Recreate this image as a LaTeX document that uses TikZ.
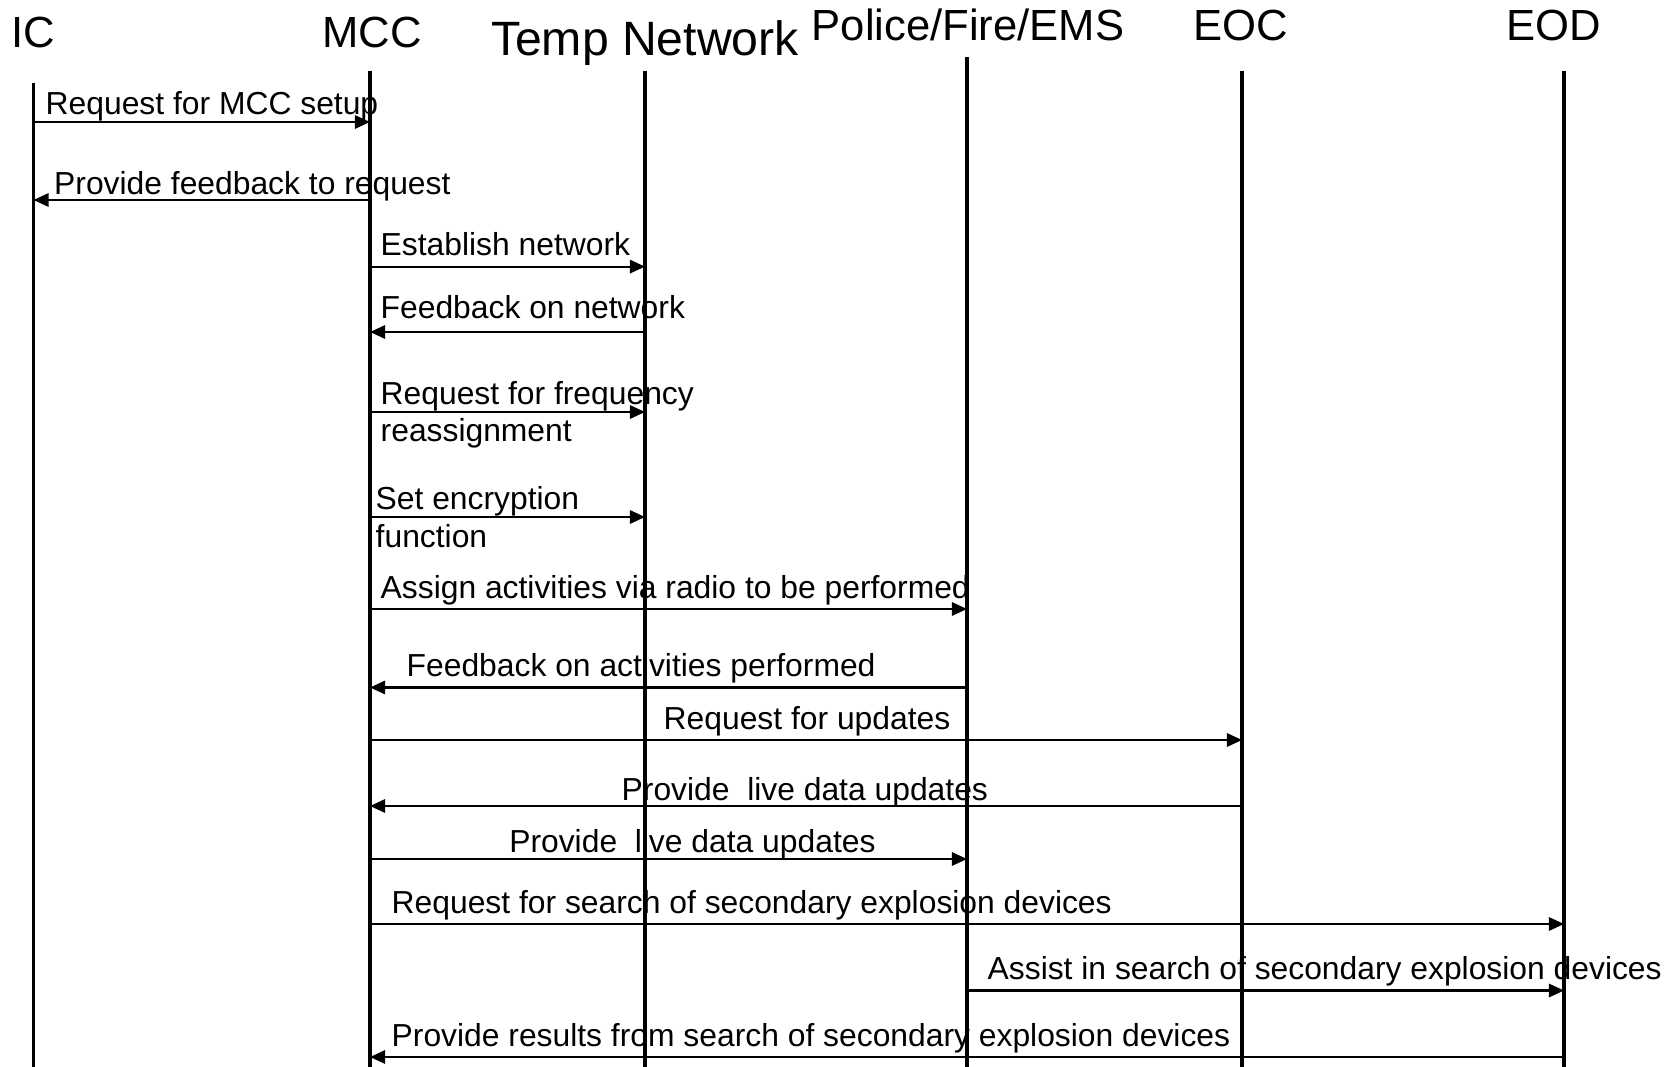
\documentclass[tikz,border=0pt]{standalone}
\usepackage{fontspec}
\setmainfont{Liberation Sans}
\usetikzlibrary{arrows.meta}

\tikzset{
  lifeline/.style={line width=0.95pt},
  msg/.style={line width=0.6pt, -{Triangle[length=4.3pt,width=3.8pt]}},
  head/.style={anchor=base, inner sep=0pt, font=\fontsize{12.4}{14}\selectfont},
  bighead/.style={head, font=\fontsize{13.7}{16}\selectfont},
  lbl/.style={anchor=base west, inner sep=0pt, align=left,
              font=\fontsize{9.05}{10.6}\selectfont},
}

\begin{document}
\begin{tikzpicture}[x=0.01cm, y=-0.01cm]
  \useasboundingbox (0,0) rectangle (1679,1067);

  % participant headings
  \node[head]    (ic)   at (33.5,48)  {IC};
  \node[head]    (mcc)  at (372,48)   {MCC};
  \node[bighead] (temp) at (645,56)   {Temp Network};
  \node[head]    (pfe)  at (968,41)   {Police/Fire/EMS};
  \node[head]    (eoc)  at (1241,41)  {EOC};
  \node[head]    (eod)  at (1554,41)  {EOD};

  % lifeline ends
  \coordinate (icT)   at (33.5,83.5);  \coordinate (icB)   at (33.5,1067);
  \coordinate (mccT)  at (370,70.7);   \coordinate (mccB)  at (370,1067);
  \coordinate (tempT) at (645,70.7);   \coordinate (tempB) at (645,1067);
  \coordinate (pfeT)  at (967,56.8);   \coordinate (pfeB)  at (967,1067);
  \coordinate (eocT)  at (1242,70.7);  \coordinate (eocB)  at (1242,1067);
  \coordinate (eodT)  at (1564,70.7);  \coordinate (eodB)  at (1564,1067);

  \draw[lifeline] (icT) -- (icB);
  \draw[lifeline] (mccT) -- (mccB);
  \draw[lifeline] (tempT) -- (tempB);
  \draw[lifeline] (pfeT) -- (pfeB);
  \draw[lifeline] (eocT) -- (eocB);
  \draw[lifeline] (eodT) -- (eodB);

  % messages (two-line labels are placed by the baseline of their last line)
  \draw[msg] (icT |- 0,122) -- (mccT |- 0,122);
  \node[lbl] (m1) at (45,114.5) {Request for MCC setup};

  \draw[msg] (mccT |- 0,200) -- (icT |- 0,200);
  \node[lbl] (m2) at (53.5,195) {Provide feedback to request};

  \draw[msg] (mccT |- 0,266.6) -- (tempT |- 0,266.6);
  \node[lbl] (m3) at (380,256) {Establish network};

  \draw[msg] (tempT |- 0,332) -- (mccT |- 0,332);
  \node[lbl] (m4) at (380,319) {Feedback on network};

  \draw[msg] (mccT |- 0,412) -- (tempT |- 0,412);
  \node[lbl] (m5) at (380,442) {Request for frequency\\reassignment};

  \draw[msg] (mccT |- 0,517) -- (tempT |- 0,517);
  \node[lbl] (m6) at (375,547) {Set encryption\\function};

  \draw[msg] (mccT |- 0,609) -- (pfeT |- 0,609);
  \node[lbl] (m7) at (380,598.5) {Assign activities via radio to be performed};

  \draw[msg] (pfeT |- 0,687.5) -- (mccT |- 0,687.5);
  \node[lbl] (m8) at (406,676.7) {Feedback on activities performed};

  \draw[msg] (mccT |- 0,740) -- (eocT |- 0,740);
  \node[lbl] (m9) at (663,729) {Request for updates};

  \draw[msg] (eocT |- 0,806) -- (mccT |- 0,806);
  \node[lbl] (m10) at (621,800) {Provide\ \ live data updates};

  \draw[msg] (mccT |- 0,859) -- (pfeT |- 0,859);
  \node[lbl] (m11) at (508.6,852) {Provide\ \ live data updates};

  \draw[msg] (mccT |- 0,924) -- (eodT |- 0,924);
  \node[lbl] (m12) at (391,913) {Request for search of secondary explosion devices};

  \draw[msg] (pfeT |- 0,990.5) -- (eodT |- 0,990.5);
  \node[lbl] (m13) at (987,979.7) {Assist in search of secondary explosion devices};

  \draw[msg] (eodT |- 0,1057) -- (mccT |- 0,1057);
  \node[lbl] (m14) at (391,1046) {Provide results from search of secondary explosion devices};
\end{tikzpicture}
\end{document}
